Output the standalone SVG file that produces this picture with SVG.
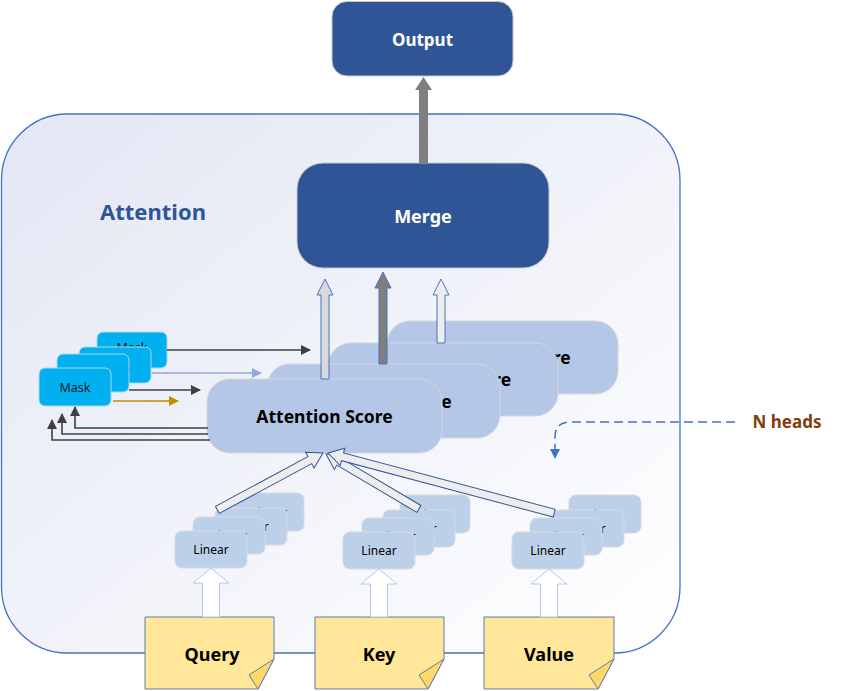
<svg xmlns="http://www.w3.org/2000/svg" width="842" height="691" viewBox="0 0 842 691">
<defs>
<linearGradient id="bg" x1="0" y1="0" x2="1" y2="1">
<stop offset="0" stop-color="#E3E6F4"/>
<stop offset="1" stop-color="#FFFFFF"/>
</linearGradient>
<marker id="mDark" markerWidth="10" markerHeight="10" refX="9" refY="5" orient="auto" markerUnits="userSpaceOnUse"><path d="M0,0 L10,5 L0,10 Z" fill="#404040"/></marker>
<marker id="mBlue" markerWidth="10" markerHeight="10" refX="9" refY="5" orient="auto" markerUnits="userSpaceOnUse"><path d="M0,0 L10,5 L0,10 Z" fill="#8FAADC"/></marker>
<marker id="mGold" markerWidth="10" markerHeight="10" refX="9" refY="5" orient="auto" markerUnits="userSpaceOnUse"><path d="M0,0 L10,5 L0,10 Z" fill="#BF9000"/></marker>
</defs>
<style>
text{font-family:"Noto Sans","Open Sans","DejaVu Sans",sans-serif;text-anchor:middle;dominant-baseline:central}
.dark{fill:#2F5597;stroke:#C9C9C9;stroke-width:1}
.dtxt{fill:#FFFFFF;font-weight:bold;font-size:17px}
.att{fill:#B4C7E7;stroke:#D2D6DE;stroke-width:1}
.atxt{fill:#000000;font-weight:bold;font-size:17.5px}
.mask{fill:#00B0F0;stroke:#A8D8EE;stroke-width:1}
.mtxt{fill:#1A1A1A;font-size:12.5px}
.lin{fill:#BDD0E9;stroke:#D6D9DE;stroke-width:1}
.ltxt{fill:#000000;font-size:12px}
.note{fill:#FFE699;stroke:#5B7CB5;stroke-width:1}
.fold{fill:#FFD966;stroke:#5B7CB5;stroke-width:1}
.ntxt{fill:#000000;font-weight:bold;font-size:18px}
.upw{fill:#FFFFFF;stroke:#B4C7E7;stroke-width:1}
.diag{fill:#EDEDED;stroke:#2F5597;stroke-width:1}
.ln{fill:none;stroke-width:1.6}
</style>

<g id="attention-container">
<rect x="1.5" y="114" width="678.5" height="539" rx="66" ry="66" fill="url(#bg)" stroke="#4472C4" stroke-width="1.3"/>
<text x="153" y="211" style="fill:#2F5597;font-weight:bold;font-size:22px">Attention</text>
</g>

<g id="output">
<rect class="dark" x="332" y="1.5" width="181" height="74.5" rx="15"/>
<text class="dtxt" x="422.5" y="39">Output</text>
</g>

<g id="merge">
<rect class="dark" x="297" y="163" width="252" height="105" rx="26"/>
<text class="dtxt" x="423" y="216" style="font-size:18px">Merge</text>
</g>

<g id="mask-4"><rect class="mask" x="97" y="332" width="70" height="36" rx="6"/><text class="mtxt" x="132" y="347">Mask</text></g>
<g id="mask-3"><rect class="mask" x="79" y="347" width="72" height="36" rx="6"/><text class="mtxt" x="115" y="365">Mask</text></g>
<g id="mask-2"><rect class="mask" x="57" y="354" width="72" height="38" rx="6"/><text class="mtxt" x="93" y="373">Mask</text></g>
<g id="mask-1"><rect class="mask" x="39" y="368" width="72" height="38" rx="6"/><text class="mtxt" x="75" y="387">Mask</text></g>

<g id="attention-score-4"><rect class="att" x="387" y="321" width="231" height="73" rx="23"/><text class="atxt" x="502.5" y="357">Attention Score</text></g>
<g id="attention-score-3"><rect class="att" x="328" y="343" width="230" height="73" rx="23"/><text class="atxt" x="443" y="379">Attention Score</text></g>
<g id="attention-score-2"><rect class="att" x="267" y="364" width="233" height="74" rx="23"/><text class="atxt" x="383.5" y="401">Attention Score</text></g>
<g id="attention-score-1"><rect class="att" x="207" y="379" width="235" height="74" rx="23"/><text class="atxt" x="324.5" y="416">Attention Score</text></g>

<g id="linear-q-4"><rect class="lin" x="234" y="493" width="70" height="38" rx="7"/><text class="ltxt" x="269" y="512">Linear</text></g>
<g id="linear-q-3"><rect class="lin" x="215" y="508" width="72" height="37" rx="7"/><text class="ltxt" x="251" y="526">Linear</text></g>
<g id="linear-q-2"><rect class="lin" x="193" y="517" width="72" height="37" rx="7"/><text class="ltxt" x="229" y="535">Linear</text></g>
<g id="linear-q-1"><rect class="lin" x="175" y="531" width="72" height="37" rx="7"/><text class="ltxt" x="211" y="549">Linear</text></g>

<g id="linear-k-4"><rect class="lin" x="400" y="495" width="70" height="38" rx="7"/><text class="ltxt" x="435" y="514">Linear</text></g>
<g id="linear-k-3"><rect class="lin" x="383" y="510" width="72" height="37" rx="7"/><text class="ltxt" x="419" y="528">Linear</text></g>
<g id="linear-k-2"><rect class="lin" x="362" y="518" width="72" height="37" rx="7"/><text class="ltxt" x="398" y="536">Linear</text></g>
<g id="linear-k-1"><rect class="lin" x="343" y="532" width="72" height="37" rx="7"/><text class="ltxt" x="379" y="550">Linear</text></g>

<g id="linear-v-4"><rect class="lin" x="569" y="495" width="72" height="38" rx="7"/><text class="ltxt" x="605" y="514">Linear</text></g>
<g id="linear-v-3"><rect class="lin" x="552" y="510" width="72" height="37" rx="7"/><text class="ltxt" x="588" y="528">Linear</text></g>
<g id="linear-v-2"><rect class="lin" x="530" y="518" width="72" height="37" rx="7"/><text class="ltxt" x="566" y="536">Linear</text></g>
<g id="linear-v-1"><rect class="lin" x="512" y="532" width="72" height="37" rx="7"/><text class="ltxt" x="548" y="550">Linear</text></g>

<g id="query">
<path class="note" d="M145,617 H274 V659 L258,689 H145 Z"/>
<path class="fold" d="M274,659 L249,675 L258,689 Z"/>
<text class="ntxt" x="212" y="654">Query</text>
</g>
<g id="key">
<path class="note" d="M315,617 H444 V659 L428,689 H315 Z"/>
<path class="fold" d="M444,659 L419,675 L428,689 Z"/>
<text class="ntxt" x="379" y="654">Key</text>
</g>
<g id="value">
<path class="note" d="M484,617 H614 V659 L598,689 H484 Z"/>
<path class="fold" d="M614,659 L589,675 L598,689 Z"/>
<text class="ntxt" x="549" y="654">Value</text>
</g>

<g id="n-heads-label">
<text x="787" y="421" style="fill:#843C0C;font-weight:bold;font-size:17px">N heads</text>
</g>

<g id="connectors">
<polygon points="419,163 419,90 415,90 423.5,77 432,90 428,90 428,163" fill="#7F7F7F"/>
<polygon points="321,379 321,295 317,295 325,279 333,295 329,295 329,379" fill="#D9D9D9" stroke="#4472C4" stroke-width="1"/>
<polygon points="379,364 379,288 375,288 383,272 391,288 387,288 387,364" fill="#7F7F7F" stroke="#4472C4" stroke-width="1"/>
<polygon points="437,343 437,295 433,295 441,279 449,295 445,295 445,343" fill="#EDEDED" stroke="#4472C4" stroke-width="1"/>

<path class="ln" d="M167,350 H310" stroke="#404040" marker-end="url(#mDark)"/>
<path class="ln" d="M152,373 H261" stroke="#8FAADC" marker-end="url(#mBlue)"/>
<path class="ln" d="M129,390 H200" stroke="#404040" marker-end="url(#mDark)"/>
<path class="ln" d="M113,401 H178" stroke="#BF9000" marker-end="url(#mGold)"/>

<path class="ln" d="M208,428 H75 V407" stroke="#404040" marker-end="url(#mDark)"/>
<path class="ln" d="M208,434 H62 V414" stroke="#404040" marker-end="url(#mDark)"/>
<path class="ln" d="M210,440 H52 V420" stroke="#404040" marker-end="url(#mDark)"/>

<polygon class="upw" points="202.5,617 202.5,583 193,583 211,568 229,583 219.5,583 219.5,617"/>
<polygon class="upw" points="370.5,617 370.5,584 361,584 379,569 397,584 387.5,584 387.5,617"/>
<polygon class="upw" points="540.5,617 540.5,584 531,584 549,569 567,584 557.5,584 557.5,617"/>

<polygon class="diag" transform="translate(323,453) rotate(-28.3)" points="-120,-4 -15,-4 -15,-9 0,0 -15,9 -15,4 -120,4"/>
<polygon class="diag" transform="translate(326,454) rotate(-149.4)" points="-108,-4 -15,-4 -15,-9 0,0 -15,9 -15,4 -108,4"/>
<polygon class="diag" transform="translate(328,453) rotate(-165.1)" points="-234,-4 -15,-4 -15,-9 0,0 -15,9 -15,4 -234,4"/>

<path d="M735,422 H570 Q555,422 555,437 V449" fill="none" stroke="#4472C4" stroke-width="1.5" stroke-dasharray="9,5"/>
<polygon points="550,449 560,449 555,459" fill="#4472C4"/>
</g>
</svg>
